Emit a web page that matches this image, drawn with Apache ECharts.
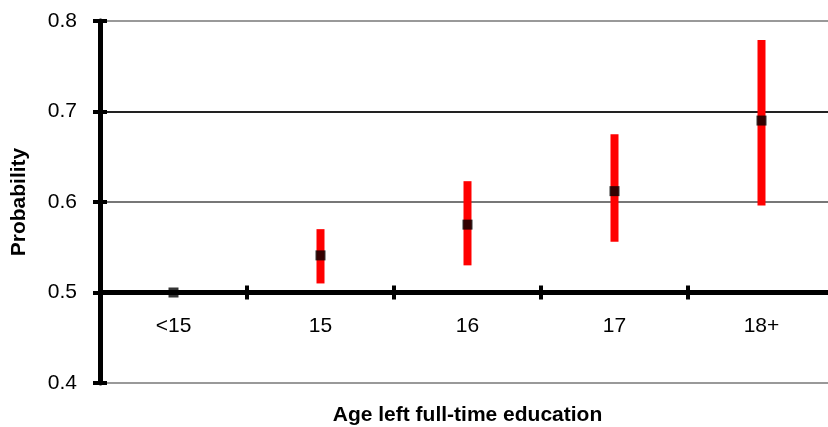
<!DOCTYPE html>
<html>
<head>
<meta charset="utf-8">
<script src="https://cdn.jsdelivr.net/npm/echarts@6/dist/echarts.min.js"></script>
<style>html,body{margin:0;padding:0;background:#fff}#c{width:828px;height:427px}</style>
</head>
<body>
<div id="c"></div>
<script>
const categories = ['<15', '15', '16', '17', '18+'];
const probability = [0.500, 0.541, 0.575, 0.612, 0.690];
const lower = [0.500, 0.510, 0.530, 0.556, 0.596];
const upper = [0.500, 0.570, 0.623, 0.675, 0.779];
const yTicks = [0.4, 0.5, 0.6, 0.7, 0.8];
const AXIS_CROSS = 0.5; // the category axis crosses the value axis here

const FONT = 'Liberation Sans, Arial, Helvetica, sans-serif';
const chart = echarts.init(document.getElementById('c'), null, {renderer: 'canvas'});

const shift = v => +(v - AXIS_CROSS).toFixed(6);
const yMin = shift(yTicks[0]), yMax = shift(yTicks[yTicks.length - 1]);

const baseY = {
  type: 'value', min: yMin, max: yMax, interval: 0.1, position: 'left'
};

chart.setOption({
  animation: false,
  grid: {left: 100, top: 21, width: 735, height: 362, containLabel: false, outerBoundsMode: 'none'},
  xAxis: [{
    // labels and name
    type: 'category', data: categories, position: 'bottom',
    axisLine: {show: false, onZero: false},
    axisTick: {show: false},
    axisLabel: {color: '#000', fontSize: 21, fontFamily: FONT, margin: -67},
    name: 'Age left full-time education', nameLocation: 'middle', nameGap: 22,
    nameMoveOverlap: false,
    nameTextStyle: {color: '#000', fontSize: 21, fontWeight: 'bold', fontFamily: FONT,
      verticalAlign: 'top'},
    splitLine: {show: false}
  }, {
    type: 'category', data: categories, position: 'bottom',
    axisLine: {show: true, onZero: true, lineStyle: {color: '#000', width: 5}},
    axisTick: {show: true, length: 7, lineStyle: {color: '#000', width: 4}},
    axisLabel: {show: false},
    splitLine: {show: false}
  }, {
    type: 'category', data: categories, position: 'bottom',
    axisLine: {show: true, onZero: true, lineStyle: {color: '#000', width: 5}},
    axisTick: {show: true, inside: true, length: 7, lineStyle: {color: '#000', width: 4}},
    axisLabel: {show: false},
    splitLine: {show: false}
  }],
  yAxis: [Object.assign({}, baseY, {
    axisLine: {show: true, lineStyle: {color: '#000', width: 5}},
    axisTick: {show: true, length: 7, lineStyle: {color: '#000', width: 4}},
    axisLabel: {color: '#000', fontSize: 21, fontFamily: FONT, margin: 23,
      formatter: v => (v + AXIS_CROSS).toFixed(1)},
    splitLine: {show: true, lineStyle: {color: ['#999', '#000', '#777', '#222', '#999'], width: [2]}},
    name: 'Probability', nameLocation: 'middle', nameGap: 70,
    nameMoveOverlap: false,
    nameTextStyle: {color: '#000', fontSize: 21, fontWeight: 'bold', fontFamily: FONT}
  }), Object.assign({}, baseY, {
    axisLine: {show: false},
    axisTick: {show: true, inside: true, length: 7, lineStyle: {color: '#000', width: 4}},
    axisLabel: {show: false},
    splitLine: {show: false}
  })],
  series: [{
    type: 'custom',
    xAxisIndex: 1, yAxisIndex: 0,
    z: 3,
    data: categories.map((c, i) => [i, shift(lower[i]), shift(upper[i])]),
    encode: {x: 0, y: [1, 2]},
    renderItem: function (params, api) {
      const lo = api.coord([api.value(0), api.value(1)]);
      const hi = api.coord([api.value(0), api.value(2)]);
      return {
        type: 'rect',
        shape: {x: lo[0] - 4, y: hi[1], width: 8, height: lo[1] - hi[1]},
        style: {fill: '#ff0000'}
      };
    }
  }, {
    type: 'scatter',
    xAxisIndex: 1, yAxisIndex: 0,
    z: 4,
    symbol: 'rect', symbolSize: 10,
    itemStyle: {color: '#000'},
    data: categories.map((c, i) => [i, shift(probability[i])])
  }]
});
</script>
</body>
</html>
